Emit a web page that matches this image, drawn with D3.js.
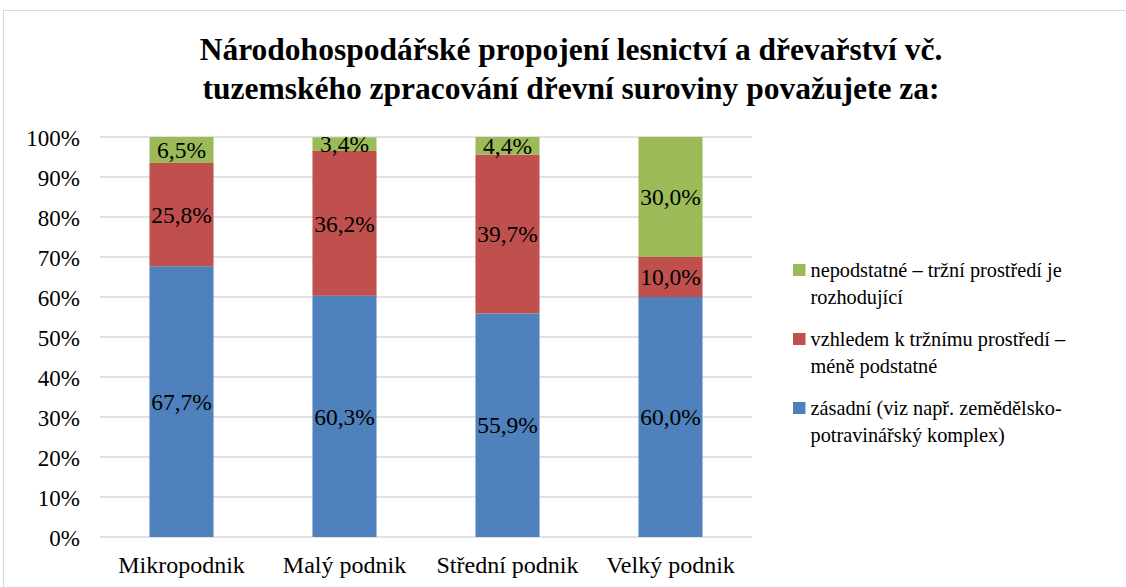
<!DOCTYPE html>
<html>
<head>
<meta charset="utf-8">
<script src="https://cdn.jsdelivr.net/npm/d3@7"></script>
<style>
  html, body { margin: 0; padding: 0; background: #fff; }
  svg { display: block; }
</style>
</head>
<body>
<svg id="chart" width="1126" height="587" font-family="Liberation Serif"></svg>
<script>
// Categories (company size) and the three answer shares in percent
const categories = ["Mikropodnik", "Malý podnik", "Střední podnik", "Velký podnik"];
const zasadni       = [67.7, 60.3, 55.9, 60.0];
const menePodstatne = [25.8, 36.2, 39.7, 10.0];
const nepodstatne   = [6.5, 3.4, 4.4, 30.0];

const legendLines = [
  ["zásadní (viz např. zemědělsko-", "potravinářský komplex)"],
  ["vzhledem k tržnímu prostředí –", "méně podstatné"],
  ["nepodstatné – tržní prostředí je", "rozhodující"]
];
const seriesColors = ["#4F81BD", "#C0504D", "#9BBB59"];
const yTicks = [0, 10, 20, 30, 40, 50, 60, 70, 80, 90, 100];
const titleLines = [
  "Národohospodářské propojení lesnictví a dřevařství vč.",
  "tuzemského zpracování dřevní suroviny považujete za:"
];

const FONT = "Liberation Serif";
const keys = ["s0", "s1", "s2"];
const rows = categories.map((c, i) => ({
  cat: c, s0: zasadni[i], s1: menePodstatne[i], s2: nepodstatne[i]
}));

const svg = d3.select("#chart");

// outer chart frame
svg.append("rect")
  .attr("x", 3.5).attr("y", 10.5)
  .attr("width", 1140).attr("height", 600)
  .attr("fill", "none").attr("stroke", "#d9d9d9").attr("stroke-width", 1);

// title
svg.append("g").attr("font-family", FONT)
  .selectAll("text").data(titleLines).join("text")
  .attr("x", 571).attr("y", (d, i) => 60 + i * 39)
  .attr("text-anchor", "middle")
  .attr("font-family", FONT)
  .attr("font-size", 31.5).attr("font-weight", "bold")
  .attr("fill", "#000")
  .text(d => d);

const plot = { left: 100, right: 752, top: 137, bottom: 537 };

const x = d3.scaleBand().domain(categories)
  .range([plot.left, plot.right]).paddingInner(0.607).paddingOuter(0.3035);
const y = d3.scaleLinear().domain([0, 100]).range([plot.bottom, plot.top]);

// horizontal gridlines
svg.append("g").selectAll("line").data(yTicks).join("line")
  .attr("x1", plot.left).attr("x2", plot.right)
  .attr("y1", d => y(d)).attr("y2", d => y(d))
  .attr("stroke", "#d9d9d9").attr("stroke-width", 1.5);

// y axis labels
const yAxis = d3.axisLeft(y).tickValues(yTicks).tickSize(0).tickPadding(0)
  .tickFormat(d => d + "%");
const yg = svg.append("g").attr("transform", "translate(80,0)").call(yAxis)
  .attr("font-family", FONT).attr("font-size", 23);
yg.select(".domain").remove();
yg.selectAll("text").attr("font-family", FONT).attr("fill", "#000").attr("dy", "0.35em");

// x axis labels
const xAxis = d3.axisBottom(x).tickSize(0).tickPadding(0);
const xg = svg.append("g").attr("transform", "translate(0,565)").call(xAxis)
  .attr("font-family", FONT).attr("font-size", 24);
xg.select(".domain").remove();
xg.selectAll("text").attr("font-family", FONT).attr("fill", "#000")
  .attr("dy", "0.35em").attr("y", 0);

// stacked bars
const stack = d3.stack().keys(keys)(rows);
const layers = svg.append("g").selectAll("g").data(stack).join("g")
  .attr("fill", (d, i) => seriesColors[i]);

layers.selectAll("rect").data(d => d).join("rect")
  .attr("x", d => x(d.data.cat))
  .attr("width", x.bandwidth())
  .attr("y", d => y(d[1]))
  .attr("height", d => y(d[0]) - y(d[1]));

// value labels at segment centres
const fmt = v => v.toFixed(1).replace(".", ",") + "%";
const labels = svg.append("g").attr("font-family", FONT).attr("font-size", 23.5);
stack.forEach(layer => {
  labels.append("g").selectAll("text").data(layer).join("text")
    .attr("x", d => x(d.data.cat) + x.bandwidth() / 2)
    .attr("y", d => y((d[0] + d[1]) / 2))
    .attr("dy", "0.35em")
    .attr("text-anchor", "middle")
    .attr("font-family", FONT).attr("fill", "#000")
    .text(d => fmt(d[1] - d[0]));
});

// legend (top entry is the top stack segment)
const legendOrder = [2, 1, 0];
const legendY = [270, 339, 408];
const lg = svg.append("g").attr("font-family", FONT).attr("font-size", 20.3);
legendOrder.forEach((si, k) => {
  lg.append("rect")
    .attr("x", 793).attr("y", legendY[k] - 6)
    .attr("width", 12.5).attr("height", 12)
    .attr("fill", seriesColors[si]);
  lg.append("g").selectAll("text").data(legendLines[si]).join("text")
    .attr("x", 810.5).attr("y", (d, j) => legendY[k] + j * 26.5)
    .attr("dy", "0.35em")
    .attr("font-family", FONT).attr("fill", "#000")
    .text(d => d);
});
</script>
</body>
</html>
